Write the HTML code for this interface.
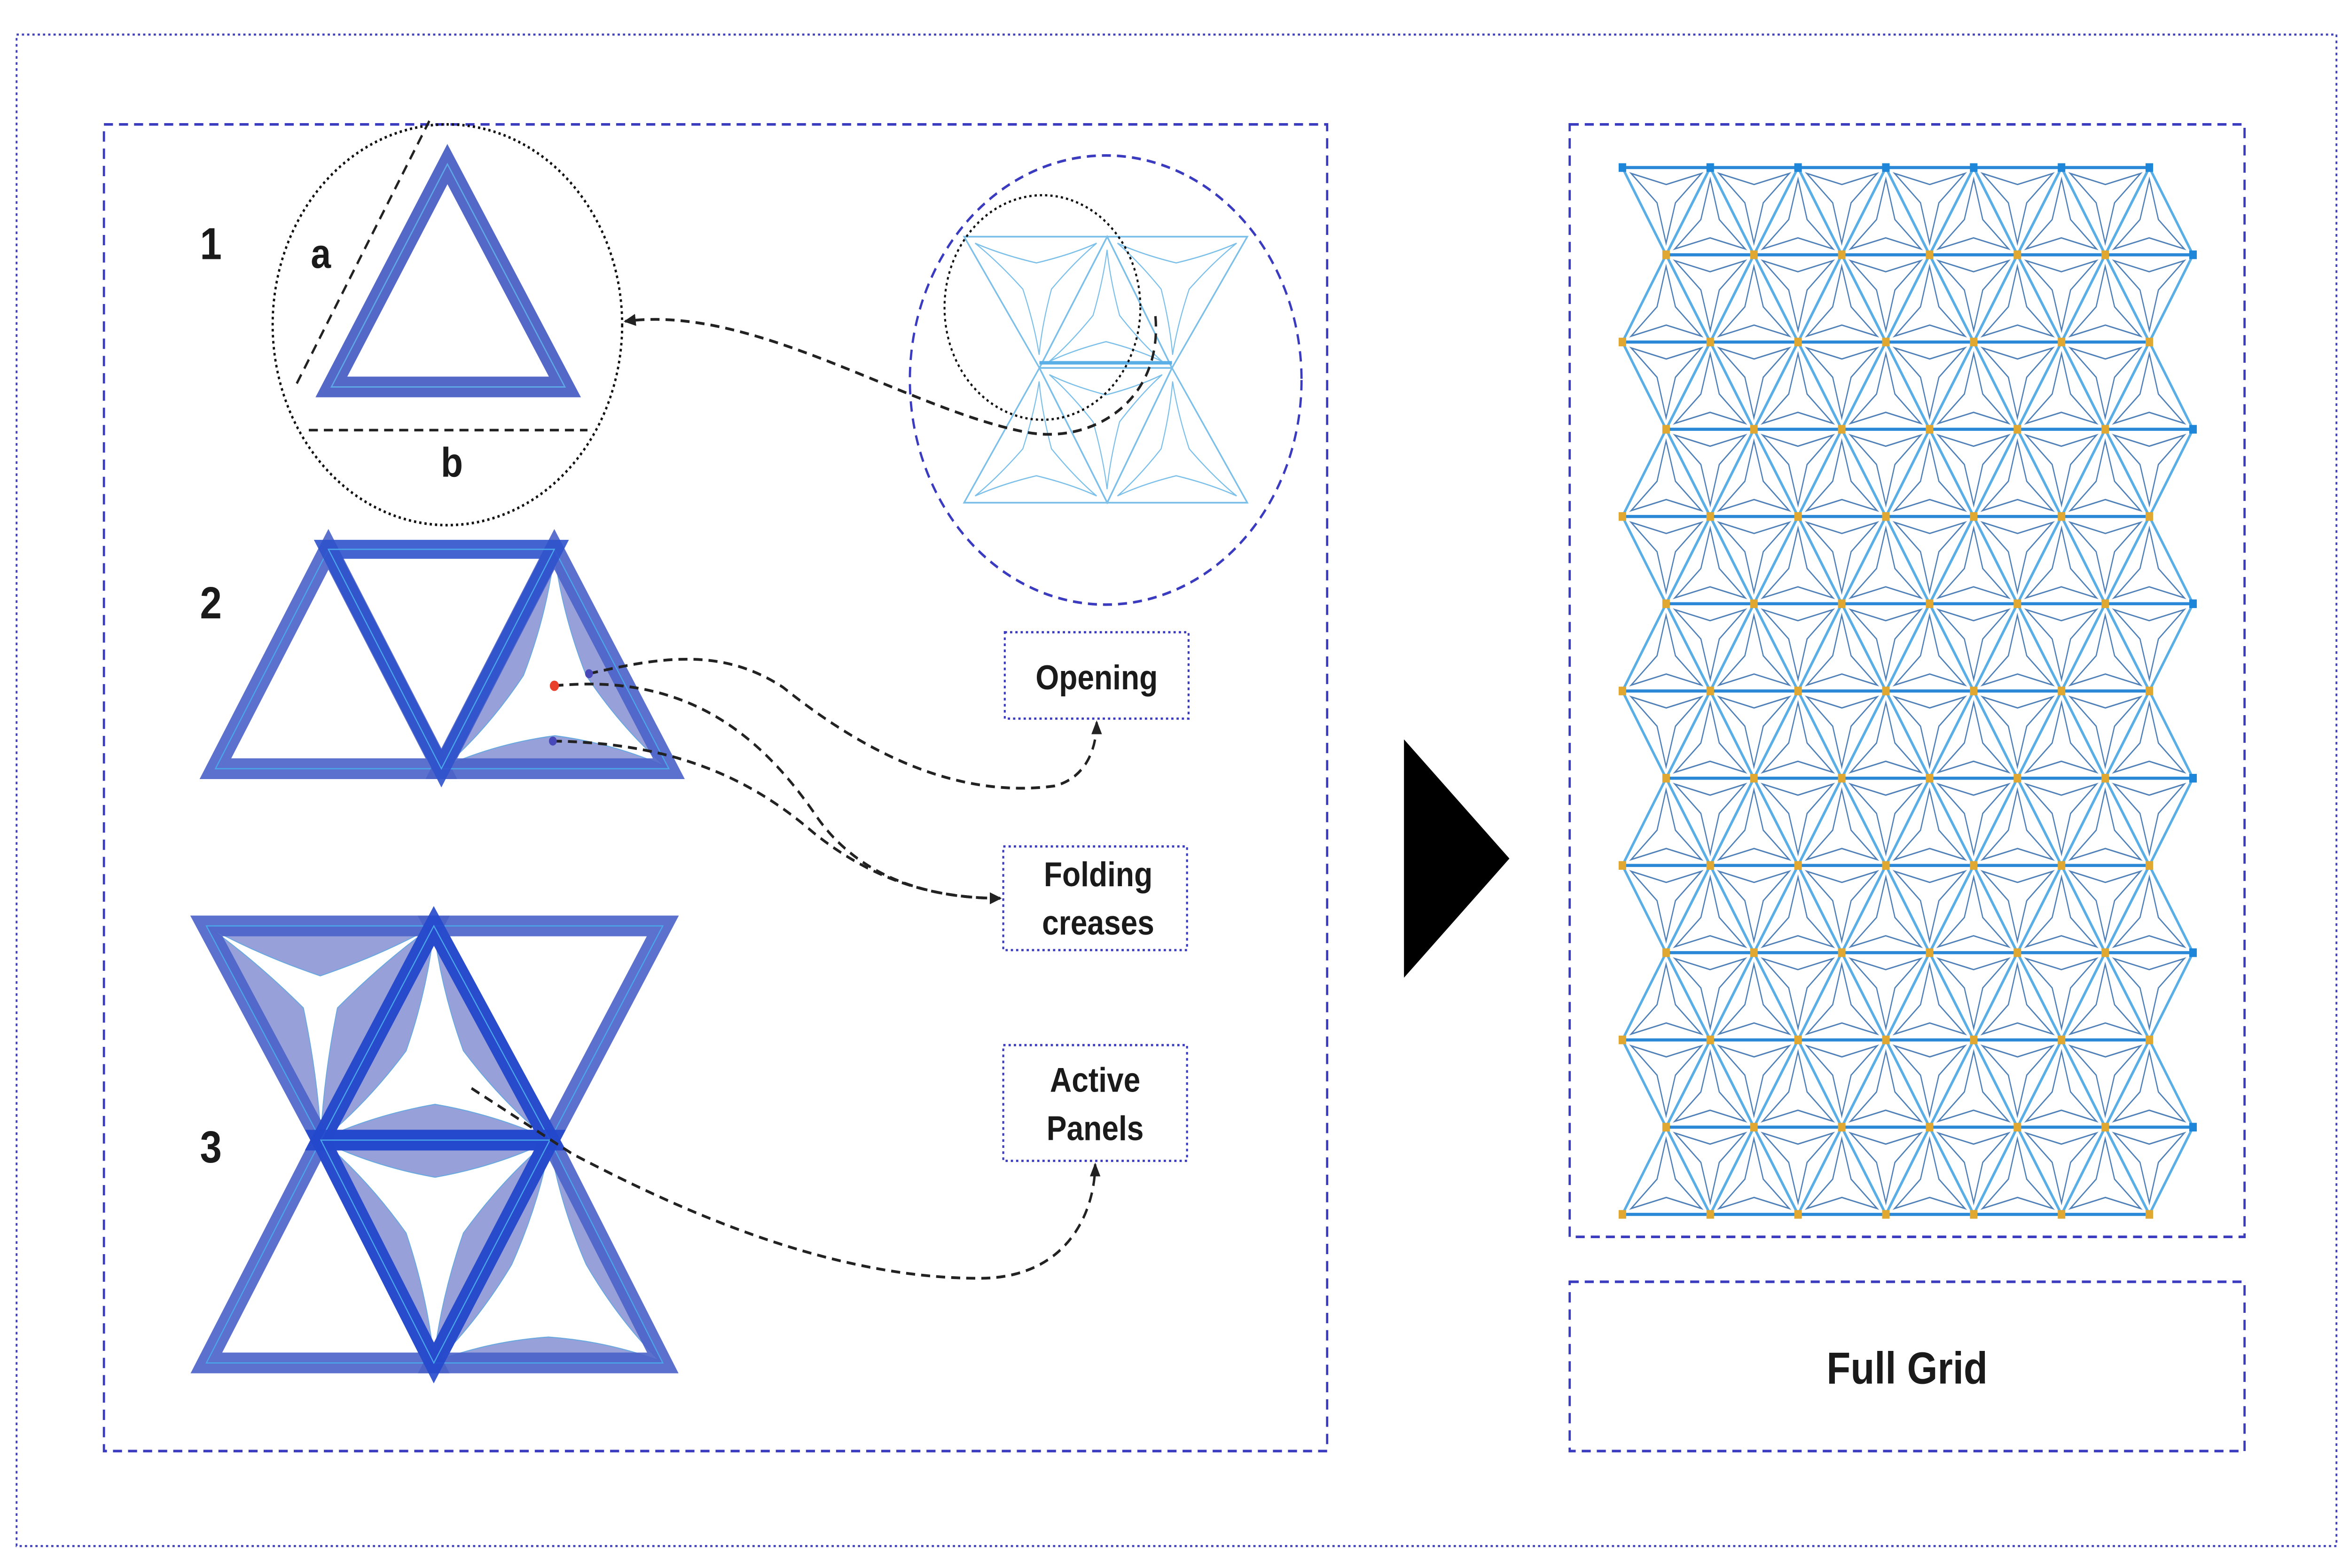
<!DOCTYPE html>
<html><head><meta charset="utf-8">
<style>
html,body{margin:0;padding:0;background:#fff;width:100vw;height:100vh;overflow:hidden;}
svg{display:block;position:absolute;left:0;top:0;width:100vw;height:100vh;}
text{font-family:"Liberation Sans",sans-serif;font-weight:bold;fill:#1a1a1a;}
</style></head>
<body>
<svg id="s" viewBox="0 0 1560 907.7" preserveAspectRatio="none" xmlns="http://www.w3.org/2000/svg">
<defs>
<marker id="ah" markerWidth="8" markerHeight="8" refX="7" refY="4" orient="auto" markerUnits="userSpaceOnUse"><path d="M0,0.5 L8,4 L0,7.5 Z" fill="#222"/></marker>
</defs>
<rect x="0" y="0" width="1560" height="907.7" fill="#fff"/>
<rect x="11" y="20" width="1540" height="875" fill="none" stroke="#4040b8" stroke-width="1.2" stroke-dasharray="1.5 2"/>
<rect x="69" y="72" width="812" height="768" fill="none" stroke="#3b3bc0" stroke-width="1.5" stroke-dasharray="6 4"/>
<rect x="1042" y="72" width="448" height="644" fill="none" stroke="#3b3bc0" stroke-width="1.5" stroke-dasharray="6 4"/>
<rect x="1042" y="742" width="448" height="98" fill="none" stroke="#3b3bc0" stroke-width="1.5" stroke-dasharray="6 4"/>
<text x="1266" y="801" font-size="26" text-anchor="middle">Full Grid</text>
<polygon points="932,428 1002,497 932,566" fill="#000"/>

<text x="140" y="150" font-size="26" text-anchor="middle">1</text>
<text x="213" y="155" font-size="24" text-anchor="middle">a</text>
<text x="300" y="276" font-size="24" text-anchor="middle">b</text>
<text x="140" y="358" font-size="26" text-anchor="middle">2</text>
<text x="140" y="673" font-size="26" text-anchor="middle">3</text>

<circle cx="297" cy="188" r="116" fill="none" stroke="#111" stroke-width="1.5" stroke-dasharray="1.5 2"/>
<line x1="197" y1="222" x2="285" y2="70" stroke="#222" stroke-width="1.5" stroke-dasharray="6 4"/>
<line x1="205" y1="249" x2="390" y2="249" stroke="#222" stroke-width="1.5" stroke-dasharray="6 4"/>
<polygon points="297,95 220,224 375,224" fill="none" stroke="#5468c8" stroke-width="12" stroke-linejoin="miter"/>
<polygon points="297,95 220,224 375,224" fill="none" stroke="#5fa8e6" stroke-width="0.8"/>

<circle cx="734" cy="220" r="130" fill="none" stroke="#3b3bc0" stroke-width="1.5" stroke-dasharray="6 4"/>
<g id="mini" fill="none" stroke="#7cc0ea" stroke-width="1"></g>
<circle cx="692" cy="178" r="65" fill="none" stroke="#111" stroke-width="1.3" stroke-dasharray="1.5 2"/>

<g id="st2"></g>
<g id="st3"></g>

<rect x="667" y="366" width="122" height="50" fill="#fff" stroke="#3b3bc0" stroke-width="1.3" stroke-dasharray="1.5 2"/>
<text x="728" y="399" font-size="20" text-anchor="middle">Opening</text>
<rect x="666" y="490" width="122" height="60" fill="#fff" stroke="#3b3bc0" stroke-width="1.3" stroke-dasharray="1.5 2"/>
<text x="729" y="513" font-size="20" text-anchor="middle">Folding</text>
<text x="729" y="541" font-size="20" text-anchor="middle">creases</text>
<rect x="666" y="605" width="122" height="67" fill="#fff" stroke="#3b3bc0" stroke-width="1.3" stroke-dasharray="1.5 2"/>
<text x="727" y="632" font-size="20" text-anchor="middle">Active</text>
<text x="727" y="660" font-size="20" text-anchor="middle">Panels</text>

<g fill="none" stroke="#222" stroke-width="1.6" stroke-dasharray="6 4">
<path d="M767,183 C772,232 725,258 680,250 C600,236 500,176 415,186" marker-end="url(#ah)"/>
<path d="M391,390 C440,380 480,375 520,398 C580,440 640,462 700,455 C722,450 728,432 728,418" marker-end="url(#ah)"/>
<path d="M368,397 C450,390 500,420 540,470 C570,510 620,520 664,520" marker-end="url(#ah)"/>
<path d="M367,429 C450,430 500,452 540,482 C580,510 620,520 664,520"/>
<path d="M313,630 L380,668 C450,700 550,740 650,740 C710,740 727,700 727,674" marker-end="url(#ah)"/>
</g>
<circle cx="368" cy="397" r="3" fill="#e8402a"/>
<circle cx="391" cy="390" r="2.6" fill="#4848b8"/>
<circle cx="367" cy="429" r="2.6" fill="#4848b8"/>

<g id="grid"></g>
</svg>
<script>
var NS="http://www.w3.org/2000/svg";
function el(p,t,a){var e=document.createElementNS(NS,t);for(var k in a)e.setAttribute(k,a[k]);p.appendChild(e);return e;}
function f(p){return p[0].toFixed(1)+","+p[1].toFixed(1);}
function pts(a){return a.map(f).join(" ");}
function cen(t){return [(t[0][0]+t[1][0]+t[2][0])/3,(t[0][1]+t[1][1]+t[2][1])/3];}
function lerp(a,b,t){return [a[0]+t*(b[0]-a[0]),a[1]+t*(b[1]-a[1])];}
function star(tri,tipF,inF){
  var g=cen(tri),r=[];
  for(var k=0;k<3;k++){var v=tri[k],w=tri[(k+1)%3];
    r.push(lerp(g,v,tipF));
    r.push(lerp(g,[(v[0]+w[0])/2,(v[1]+w[1])/2],inF));}
  return r;}
function armStar(tri,tipF,inF,pull){
  var g=cen(tri),tips=[],inns=[],A=[];
  for(var k=0;k<3;k++){var v=tri[k],w=tri[(k+1)%3];
    tips.push(lerp(g,v,tipF));A.push(lerp(g,v,0.55));
    inns.push(lerp(g,[(v[0]+w[0])/2,(v[1]+w[1])/2],inF));}
  function c(a,b,ax){return lerp(lerp(a,b,0.5),ax,pull);}
  var d="M"+f(inns[2]);
  for(var k=0;k<3;k++){var ip=inns[(k+2)%3];
    d+=" Q"+f(c(ip,tips[k],A[k]))+" "+f(tips[k])+" Q"+f(c(inns[k],tips[k],A[k]))+" "+f(inns[k]);}
  return d+"Z";}
var G=document.getElementById("grid"),s=58.3,h=50.5,rows=[];
for(var r=0;r<13;r++){var row=[];for(var i=0;i<7;i++)row.push([(r%2?1106:1077)+s*i,97+h*r]);rows.push(row);}
var tris=[];
for(var r=0;r<12;r++){var T=rows[r],B=rows[r+1];
  for(var i=0;i<6;i++){
    if(r%2==0){tris.push([T[i],T[i+1],B[i]]);tris.push([B[i],B[i+1],T[i+1]]);}
    else{tris.push([B[i],B[i+1],T[i]]);tris.push([T[i],T[i+1],B[i+1]]);}
  }
  el(G,"line",{x1:T[0][0],y1:T[0][1],x2:B[0][0],y2:B[0][1],stroke:"#4aa0dc","stroke-width":1.4});
  el(G,"line",{x1:T[6][0],y1:T[6][1],x2:B[6][0],y2:B[6][1],stroke:"#4aa0dc","stroke-width":1.4});
}
tris.forEach(function(t){
  el(G,"polygon",{points:pts(star(t,0.8,0.42)),fill:"none",stroke:"#4f80b8","stroke-width":0.8});
  for(var k=0;k<3;k++){var a=t[k],b=t[(k+1)%3];
    el(G,"line",{x1:a[0],y1:a[1],x2:b[0],y2:b[1],stroke:"#5aaee6","stroke-width":1.6});}
});
rows.forEach(function(row,r){
  el(G,"line",{x1:row[0][0],y1:row[0][1],x2:row[6][0],y2:row[6][1],stroke:"#2a88d6","stroke-width":1.8});
  row.forEach(function(p,i){var c=(r==0||(r%2==1&&i==6))?"#1d86d8":"#e0a830";
    el(G,"rect",{x:p[0]-2.5,y:p[1]-2.5,width:5,height:5,fill:c});});
});
var M=document.getElementById("mini");
var mt=[[[640,137],[735,137],[690,213]],[[690,213],[735,137],[778,213]],[[735,137],[828,137],[778,213]],
[[640,291],[690,213],[735,291]],[[690,213],[778,213],[735,291]],[[735,291],[778,213],[828,291]]];
mt.forEach(function(t){el(M,"polygon",{points:pts(t)});el(M,"path",{d:armStar(t,0.85,0.4,0.5),"stroke-width":0.7});});
el(M,"line",{x1:690,y1:210,x2:778,y2:210,"stroke-width":2,stroke:"#5ab0e6"});
function frame(g,t,col,w){el(g,"polygon",{points:pts(t),fill:"none",stroke:col,"stroke-width":w,"stroke-linejoin":"miter","stroke-opacity":0.9});
  el(g,"polygon",{points:pts(t),fill:"none",stroke:"#4aa8ea","stroke-width":0.7});}
function panel(g,t,tip,inn,pull){el(g,"polygon",{points:pts(t),fill:"#98a0da"});
  el(g,"path",{d:armStar(t,tip,inn,pull),fill:"#fff",stroke:"#6aa8e0","stroke-width":0.6});}
var S2=document.getElementById("st2");
var a1=[[218,318],[143,445],[293,445]],a2=[[218,318],[368,318],[293,445]],a3=[[368,318],[293,445],[444,445]];
panel(S2,a3,0.97,0.55,0.5);
frame(S2,a1,"#4a62c8",12);frame(S2,a3,"#4a62c8",12);frame(S2,a2,"#2f52cc",11);
var S3=document.getElementById("st3");
var b=[[[137,536],[288,536],[213,660]],[[213,660],[288,536],[365,660]],[[288,536],[440,536],[365,660]],
[[137,789],[213,660],[288,789]],[[213,660],[365,660],[288,789]],[[288,789],[365,660],[440,789]]];
panel(S3,b[0],0.97,0.3,0.6);panel(S3,b[1],0.97,0.5,0.5);panel(S3,b[4],0.97,0.5,0.5);panel(S3,b[5],0.97,0.65,0.4);
[0,2,3,5].forEach(function(i){frame(S3,b[i],"#4a62c8",12);});
[1,4].forEach(function(i){frame(S3,b[i],"#2448cc",12);});
</script>
</body></html>
